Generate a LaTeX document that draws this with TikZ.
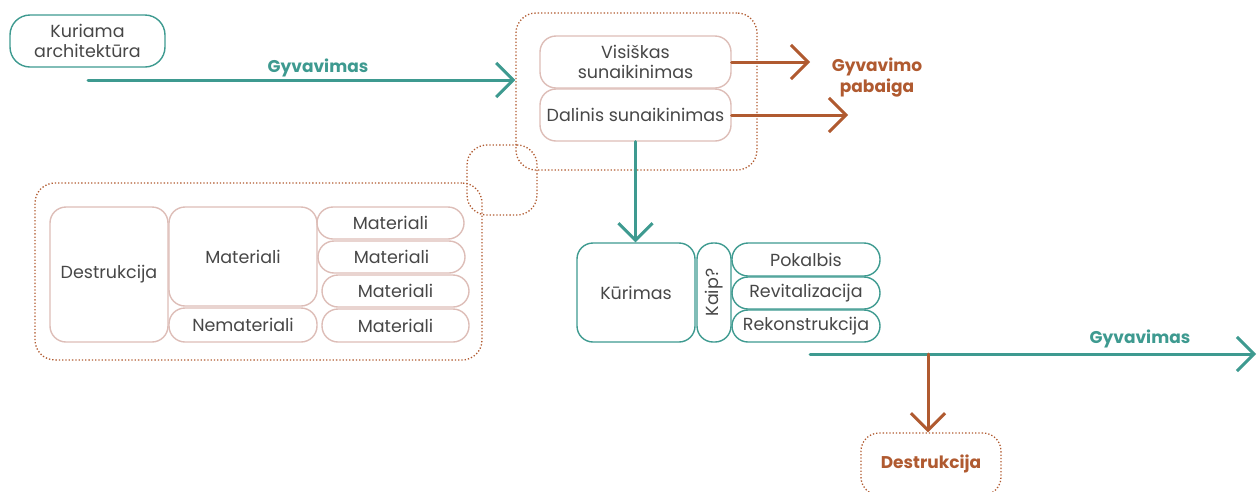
\documentclass[tikz,border=0pt]{standalone}
\usepackage{fontspec}
\setmainfont{Poppins}
\usetikzlibrary{arrows.meta}
\definecolor{teal1}{HTML}{3E9A90}
\definecolor{rust}{HTML}{B05A30}
\definecolor{pinkb}{HTML}{DDBDB7}
\definecolor{txt}{HTML}{474747}
\tikzset{
 bx/.style={draw, rounded corners=16pt, line width=1.4pt, text=txt, font=\fontsize{17.5}{20}\selectfont, align=center, inner sep=0pt},
 tbx/.style={bx, draw=teal1},
 pbx/.style={bx, draw=pinkb},
 dotbox/.style={draw=rust, dotted, line width=1.3pt, rounded corners=20pt, inner sep=0pt},
 arr/.style={line width=3pt, line cap=round, -{Straight Barb[length=17pt,width=34pt,line width=3pt]}},
 lbl/.style={font=\fontsize{17}{21}\selectfont\bfseries, align=center, inner sep=0pt},
}
\begin{document}
\begin{tikzpicture}[x=1pt,y=-1pt]
\useasboundingbox (0,0) rectangle (1259,491);
% dotted groups
\node[dotbox, minimum width=241, minimum height=157] (grp1) at (636.5,91.5) {};
\node[dotbox, minimum width=70, minimum height=70] (grp2) at (502,180) {};
\node[dotbox, minimum width=447, minimum height=177] (grp3) at (258.5,271.5) {};
% top left
\node[tbx, rounded corners=20pt, minimum width=155, minimum height=52] (kur0) at (87.5,41) {Kuriama\\architektūra};
\node[pbx, minimum width=191, minimum height=52] (vis) at (635.5,62) {Visiškas\\sunaikinimas};
\node[pbx, minimum width=191, minimum height=52] (dal) at (635.5,115) {Dalinis sunaikinimas};
% left group
\node[pbx, minimum width=118, minimum height=135] (des) at (109,274.5) {Destrukcija};
\node[pbx, minimum width=148, minimum height=99] (mat) at (243,256.5) {Materiali};
\node[pbx, minimum width=148, minimum height=34] (nem) at (243,325) {Nemateriali};
\node[pbx, minimum width=147, minimum height=32] (m1) at (390.5,223) {Materiali};
\node[pbx, minimum width=147, minimum height=32] (m2) at (391.5,257) {Materiali};
\node[pbx, minimum width=147, minimum height=32] (m3) at (395.5,291) {Materiali};
\node[pbx, minimum width=147, minimum height=33] (m4) at (395.5,325.5) {Materiali};
% kurimas group
\node[tbx, minimum width=118, minimum height=99] (kur) at (636,292.5) {Kūrimas};
\node[tbx, rounded corners=16pt, rotate=90, minimum width=99, minimum height=34] (kaip) at (714,292.5) {Kaip?};
\node[tbx, minimum width=148, minimum height=33] (pok) at (806,259.5) {Pokalbis};
\node[tbx, minimum width=148, minimum height=32] (rev) at (806,293) {Revitalizacija};
\node[tbx, minimum width=148, minimum height=32] (rek) at (806,326) {Rekonstrukcija};
% bottom destrukcija
\node[dotbox, rounded corners=18pt, minimum width=140, minimum height=62, text=rust, font=\fontsize{17}{21}\selectfont\bfseries] (des2) at (931,464) {Destrukcija};
% coordinates
\coordinate (g1s) at (88,80);
\coordinate (e1) at (810,62);
\coordinate (e2) at (848,115);
\coordinate (g2s) at (810,354);
\coordinate (g2e) at (1256,354);
\coordinate (br) at (928,354);
% arrows
\draw[arr, draw=teal1] (g1s) -- (g1s -| grp1.west);
\draw[arr, draw=rust] (vis.east) -- (e1);
\draw[arr, draw=rust] (dal.east) -- (e2);
\draw[arr, draw=teal1] (dal.south) -- (dal.south |- kur.north);
\draw[arr, draw=teal1] (g2s) -- (g2e);
\draw[arr, draw=rust] (br) -- (br |- des2.north);
% labels
\node[lbl, text=teal1] (l1) at (318,68) {Gyvavimas};
\node[lbl, text=rust] (l2) at (877,78) {Gyvavimo\\pabaiga};
\node[lbl, text=teal1] (l3) at (1140,339) {Gyvavimas};
\end{tikzpicture}
\end{document}
